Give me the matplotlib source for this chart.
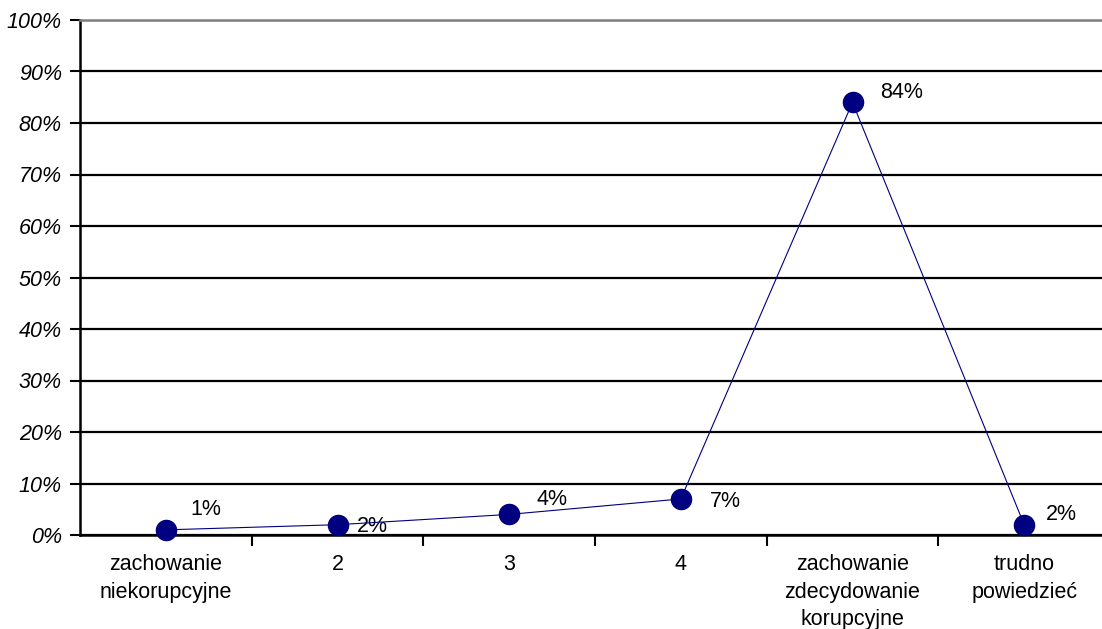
#!/usr/bin/env python3
# -*- coding: utf-8 -*-
"""Line chart: ocena zachowania (skala 1-5 + trudno powiedziec)."""

import matplotlib
matplotlib.use("Agg")
import matplotlib.pyplot as plt
from matplotlib.ticker import FixedLocator, FuncFormatter

plt.rcParams["font.family"] = ["Liberation Sans", "DejaVu Sans"]

# ----------------------------
# Data
# ----------------------------
categories = [
    "zachowanie\nniekorupcyjne",
    "2",
    "3",
    "4",
    "zachowanie\nzdecydowanie\nkorupcyjne",
    "trudno\npowiedzieć",
]
values = [1, 2, 4, 7, 84, 2]
value_labels = ["1%", "2%", "4%", "7%", "84%", "2%"]
y_ticks = [0, 10, 20, 30, 40, 50, 60, 70, 80, 90, 100]

# label offsets (points) relative to each marker, Excel-like placement
label_offsets = [(29, 15), (25, -1), (31, 11), (32, -2), (35, 7), (27, 7)]

NAVY = "#000080"
FS = 15.5


def main() -> None:
    W, H = 1102, 629
    fig = plt.figure(figsize=(W / 100, H / 100), dpi=100)
    # plot area runs slightly past the right edge, like the original export
    ax = fig.add_axes([80 / W, 94 / H, 1030 / W, 515 / H])

    x = list(range(len(categories)))
    ax.plot(x, values, color=NAVY, linewidth=0.8, marker="o",
            markersize=14.5, markerfacecolor=NAVY, markeredgecolor=NAVY,
            zorder=4, clip_on=False)

    for xi, v, lab, (dx, dy) in zip(x, values, value_labels, label_offsets):
        ax.annotate(lab, (xi, v), xytext=(dx, dy), textcoords="offset points",
                    ha="center", va="center", fontsize=FS, color="black")

    ax.set_xlim(-0.5, len(categories) - 0.5)
    ax.set_ylim(0, 100)

    # y axis
    ax.set_yticks(y_ticks)
    ax.yaxis.set_major_formatter(FuncFormatter(lambda v, p: f"{v:.0f}%"))
    for t in ax.get_yticklabels():
        t.set_fontstyle("italic")
        t.set_fontsize(FS)
    ax.tick_params(axis="y", direction="out", length=7, width=1.5, pad=6)
    ax.grid(axis="y", color="black", linewidth=1.6)
    ax.set_axisbelow(True)

    # x axis: ticks at category boundaries, labels at centres
    ax.xaxis.set_major_locator(FixedLocator([i + 0.5 for i in range(len(categories) - 1)]))
    ax.xaxis.set_major_formatter(FuncFormatter(lambda v, p: ""))
    ax.xaxis.set_minor_locator(FixedLocator(x))
    ax.set_xticklabels(categories, minor=True, fontsize=FS, linespacing=1.4)
    ax.tick_params(axis="x", which="major", direction="out", length=8, width=1.5)
    ax.tick_params(axis="x", which="minor", length=0, pad=14)

    for side in ("left", "bottom"):
        ax.spines[side].set_linewidth(1.8)
        ax.spines[side].set_color("black")
    ax.spines["top"].set_color("#808080")
    ax.spines["top"].set_linewidth(1.8)
    ax.spines["right"].set_visible(False)

    fig.savefig("out.png", dpi=100)
    plt.close(fig)


if __name__ == "__main__":
    main()
